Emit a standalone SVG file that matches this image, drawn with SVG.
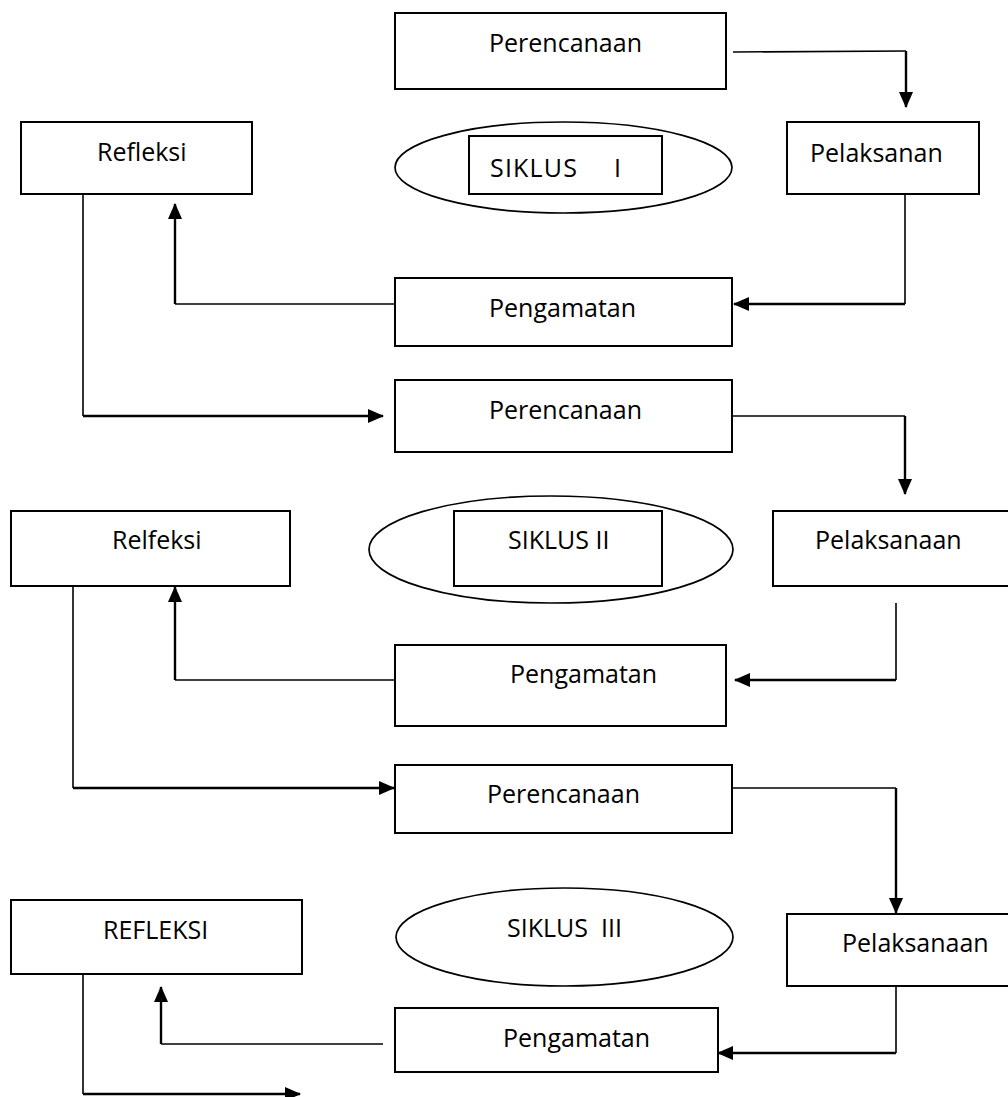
<svg xmlns="http://www.w3.org/2000/svg" width="1008" height="1097" viewBox="0 0 1008 1097">
<style>
.box{fill:#fff;stroke:#000;stroke-width:2}
.ell{fill:#fff;stroke:#000;stroke-width:1.7}
.t{font-family:"Open Sans","Noto Sans",sans-serif;font-size:25px;fill:#000}
.thin{fill:none;stroke:#000;stroke-width:1.6}
.thick{fill:none;stroke:#000;stroke-width:2.4;marker-end:url(#ah)}
</style>
<defs>
<marker id="ah" viewBox="0 0 16 14" refX="15" refY="7" markerWidth="16" markerHeight="14" markerUnits="userSpaceOnUse" orient="auto">
<path d="M0,0 L16,7 L0,14 z" fill="#000"/>
</marker>
</defs>
<rect width="1008" height="1097" fill="#fff"/>
<g id="connectors">
<path class="thin" d="M733,52 L906,51"/>
<path class="thick" d="M906,51 L906,107"/>
<path class="thin" d="M905,194 L905,304"/>
<path class="thick" d="M905,304 L734,304"/>
<path class="thin" d="M395,304 L175,304"/>
<path class="thick" d="M175,304 L175,204"/>
<path class="thin" d="M83,194 L83,416"/>
<path class="thick" d="M83,416 L383,416"/>
<path class="thin" d="M732,416 L905,416"/>
<path class="thick" d="M905,416 L905,494"/>
<path class="thin" d="M896,603 L896,680"/>
<path class="thick" d="M896,680 L735,680"/>
<path class="thin" d="M395,680 L175,680"/>
<path class="thick" d="M175,680 L175,587"/>
<path class="thin" d="M73,586 L73,788"/>
<path class="thick" d="M73,788 L394,788"/>
<path class="thin" d="M725,788 L896,788"/>
<path class="thick" d="M896,788 L896,913"/>
<path class="thin" d="M896,986 L896,1053"/>
<path class="thick" d="M896,1053 L718,1053"/>
<path class="thin" d="M383,1044 L161,1044"/>
<path class="thick" d="M161,1044 L161,987"/>
<path class="thin" d="M83,974 L83,1094"/>
<path class="thick" d="M83,1094 L300,1094"/>
</g>
<g id="perencanaan1"><rect class="box" x="395" y="13" width="331" height="76"/><text class="t" x="489" y="52">Perencanaan</text></g>
<g id="refleksi1"><rect class="box" x="21" y="122" width="231" height="72"/><text class="t" x="97" y="161">Refleksi</text></g>
<g id="siklus1"><ellipse class="ell" cx="563.5" cy="167.5" rx="168.5" ry="45.5"/><rect class="box" x="469" y="136" width="193" height="58"/><text class="t" x="490" y="177" textLength="87">SIKLUS</text><text class="t" x="614" y="177">I</text></g>
<g id="pelaksanan1"><rect class="box" x="787" y="122" width="192" height="72"/><text class="t" x="810" y="162">Pelaksanan</text></g>
<g id="pengamatan1"><rect class="box" x="395" y="278" width="337" height="68"/><text class="t" x="489" y="317">Pengamatan</text></g>
<g id="perencanaan2"><rect class="box" x="395" y="380" width="337" height="72"/><text class="t" x="489" y="419">Perencanaan</text></g>
<g id="relfeksi2"><rect class="box" x="11" y="511" width="279" height="75"/><text class="t" x="112" y="549">Relfeksi</text></g>
<g id="siklus2"><ellipse class="ell" cx="551" cy="549.5" rx="182" ry="53.5"/><rect class="box" x="454" y="511" width="208" height="75"/><text class="t" x="508" y="549">SIKLUS II</text></g>
<g id="pelaksanaan2"><rect class="box" x="773" y="511" width="240" height="75"/><text class="t" x="815" y="549">Pelaksanaan</text></g>
<g id="pengamatan2"><rect class="box" x="395" y="645" width="331" height="81"/><text class="t" x="510" y="683">Pengamatan</text></g>
<g id="perencanaan3"><rect class="box" x="395" y="765" width="337" height="68"/><text class="t" x="487" y="803">Perencanaan</text></g>
<g id="refleksi3"><rect class="box" x="11" y="900" width="291" height="74"/><text class="t" x="103" y="939">REFLEKSI</text></g>
<g id="siklus3"><ellipse class="ell" cx="564.5" cy="937" rx="168.5" ry="49"/><text class="t" x="507" y="937" xml:space="preserve">SIKLUS  III</text></g>
<g id="pelaksanaan3"><rect class="box" x="787" y="914" width="226" height="72"/><text class="t" x="842" y="952">Pelaksanaan</text></g>
<g id="pengamatan3"><rect class="box" x="395" y="1008" width="323" height="64"/><text class="t" x="503" y="1047">Pengamatan</text></g>
</svg>
